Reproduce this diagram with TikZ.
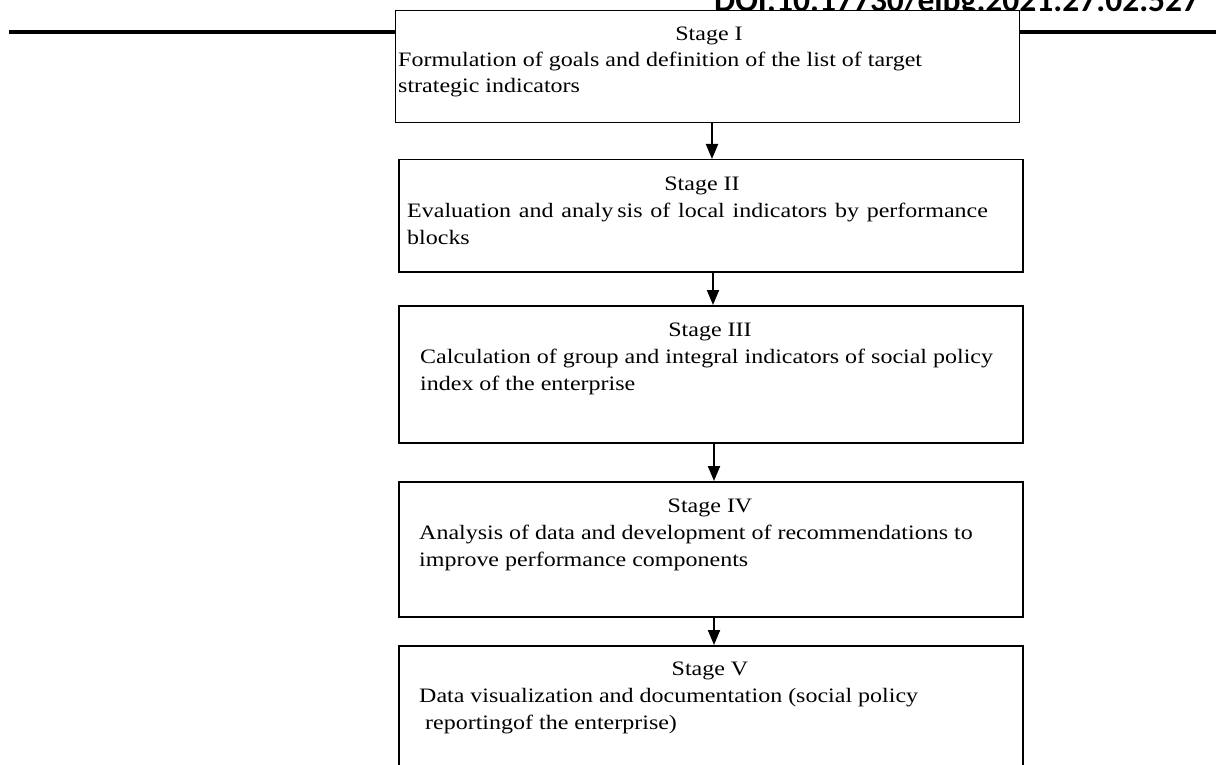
\documentclass[tikz,border=0pt]{standalone}
\usepackage{fontspec}
\setmainfont{Liberation Serif}
\newfontfamily\bodyfont[FakeStretch=1.17]{Liberation Serif}
\newfontfamily\doifont{Carlito}
\usetikzlibrary{arrows.meta}
\tikzset{
  stagebox/.style={draw=black, fill=white, line width=1.5pt, anchor=north west, inner sep=0pt},
  stagetitle/.style={anchor=base, inner sep=0pt, font=\bodyfont\fontsize{20.5}{27}\selectfont},
  stageline/.style={anchor=base west, inner sep=0pt, font=\bodyfont\fontsize{20.5}{27}\selectfont},
  flow/.style={line width=2pt, -{Triangle[width=12pt,length=15pt]}},
  rule/.style={line width=4pt}
}
\begin{document}
\begin{tikzpicture}[x=1pt,y=-1pt]
\useasboundingbox (0,0) rectangle (1216,765);
\clip (0,0) rectangle (1216,765);
% clipped header text
\node[anchor=base west, inner sep=0pt, font=\doifont\bfseries\fontsize{33.5}{36}\selectfont] (doi) at (714,12) {DOI:10.17730/elbg.2021.27.02.527};
% thick rule
\coordinate (ruleL) at (9,32);
\coordinate (ruleR) at (1216,32);
\draw[rule] (ruleL) -- (ruleR);
% boxes
\node[stagebox, line width=1.1pt, minimum width=624pt, minimum height=112pt] (b1) at (395,10) {};
\node[stagebox, minimum width=624pt, minimum height=112pt] (b2) at (398,159) {};
\node[stagebox, minimum width=624pt, minimum height=137pt] (b3) at (398,305) {};
\node[stagebox, minimum width=624pt, minimum height=135pt] (b4) at (398,481) {};
\node[stagebox, minimum width=624pt, minimum height=140pt] (b5) at (398,645) {};
% texts
\node[stagetitle] (t1) at (709,41) {Stage I};
\node[stageline] (t1a) at (398,67) {Formulation of goals and definition of the list of target};
\node[stageline] (t1b) at (398,93) {strategic indicators};
\node[stagetitle] (t2) at (702,190) {Stage II};
\node[stageline] (t2a) at (407,217) {\spaceskip=7.8pt Evaluation and analy\hspace{4pt}sis of local indicators by performance};
\node[stageline] (t2b) at (407,244) {blocks};
\node[stagetitle] (t3) at (710,336) {Stage III};
\node[stageline] (t3a) at (420,363) {Calculation of group and integral indicators of social policy};
\node[stageline] (t3b) at (420,390) {index of the enterprise};
\node[stagetitle] (t4) at (710,512) {Stage IV};
\node[stageline] (t4a) at (419,539) {Analysis of data and development of recommendations to};
\node[stageline] (t4b) at (419,566) {improve performance components};
\node[stagetitle] (t5) at (710,675) {Stage V};
\node[stageline] (t5a) at (419,702) {Data visualization and documentation (social policy};
\node[stageline] (t5b) at (425,729) {reportingof the enterprise)};
% arrows
\draw[flow] (b1.south -| 712,0) -- (b2.north -| 712,0);
\draw[flow] (b2.south -| 713,0) -- (b3.north -| 713,0);
\draw[flow] (b3.south -| 714,0) -- (b4.north -| 714,0);
\draw[flow] (b4.south -| 714,0) -- (b5.north -| 714,0);
\end{tikzpicture}
\end{document}
